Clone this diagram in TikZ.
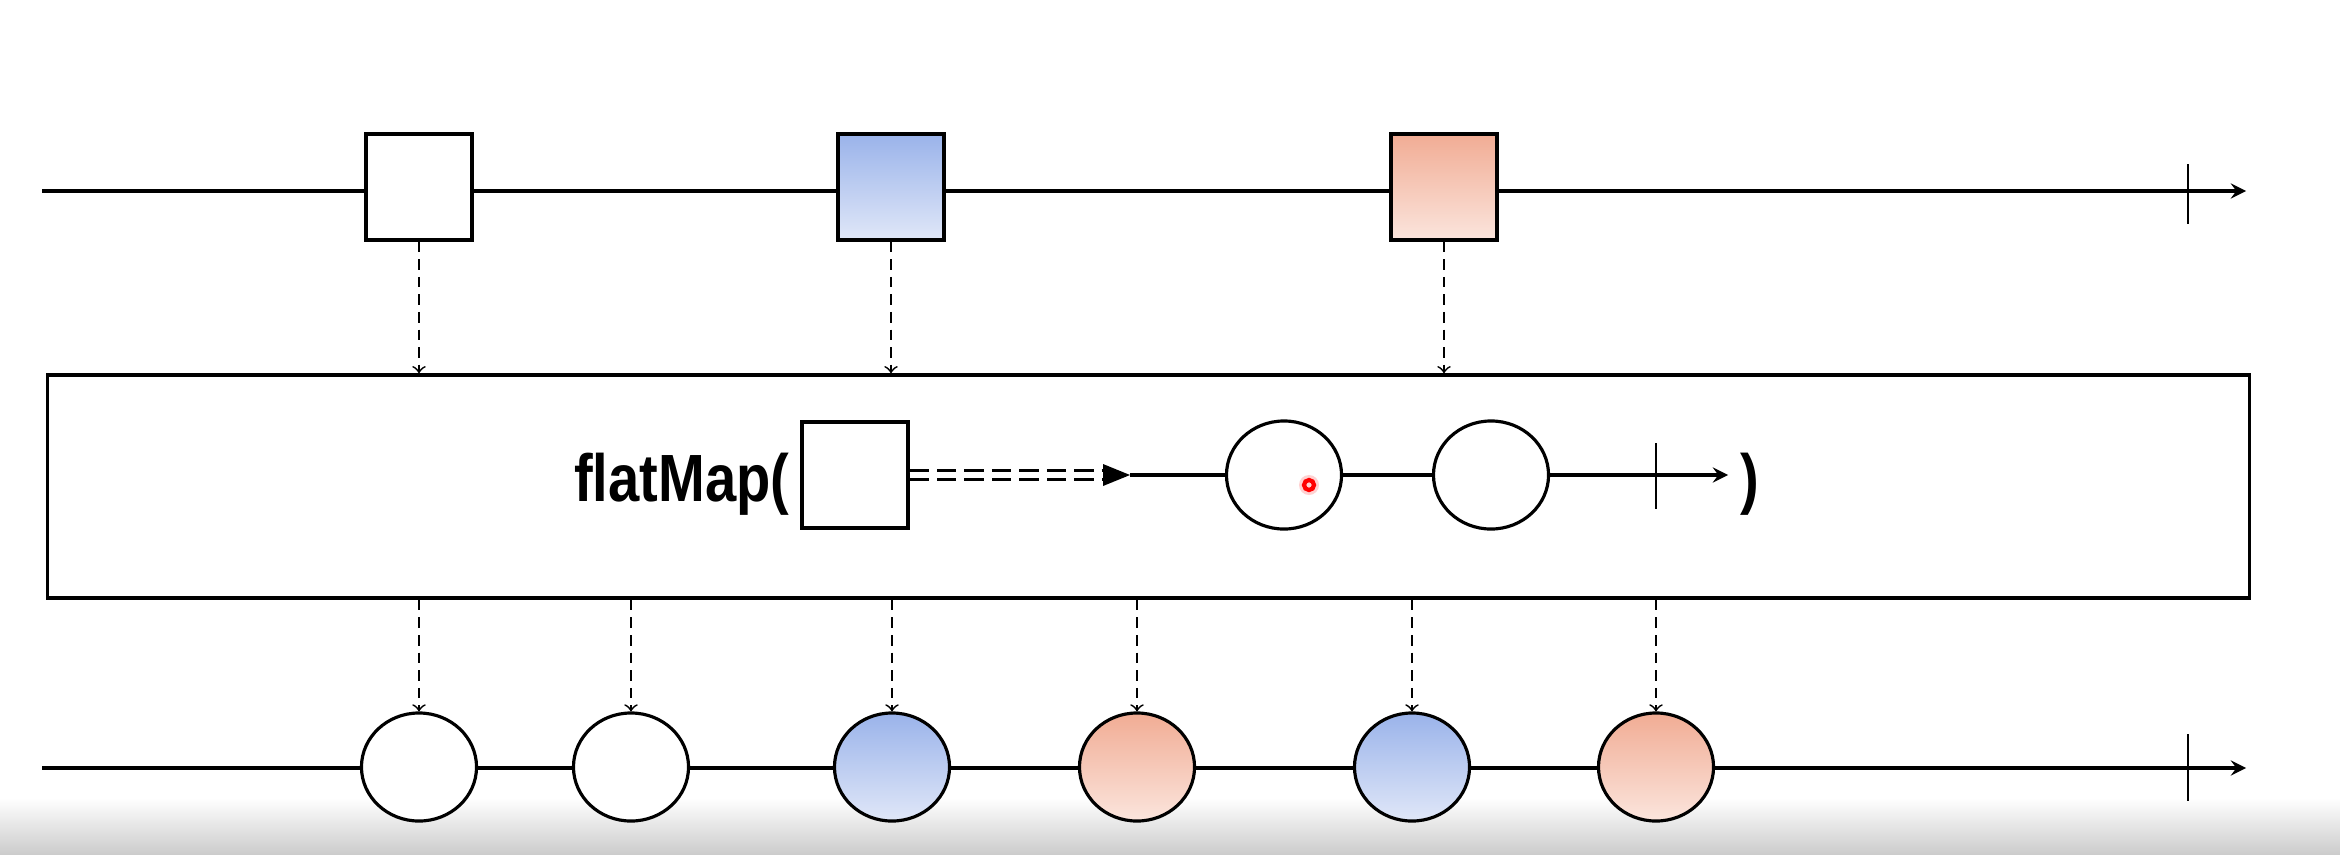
\documentclass[tikz,border=0pt]{standalone}
\usepackage{fontspec}
\newfontfamily\mapfont[FakeStretch=0.84]{Liberation Sans}
\usetikzlibrary{calc,positioning,arrows,shapes.geometric}

\definecolor{bluetop}{HTML}{9AB3EA}
\definecolor{bluebot}{HTML}{E0E7F8}
\definecolor{redtop}{HTML}{F1AC94}
\definecolor{redbot}{HTML}{FBE5DD}

\begin{document}
\begin{tikzpicture}[
x=0.01cm,
y=-0.01cm,
>=stealth,
item/.style={
	draw,
	line width=0.9pt,
	minimum width=1.06cm,
	minimum height=1.06cm,
	inner sep=0pt
},
marble/.style={
	draw,
	ellipse,
	line width=0.9pt,
	minimum width=1.15cm,
	minimum height=1.08cm,
	inner sep=0pt
},
plainfill/.style={fill=white},
bluefill/.style={top color=bluetop,bottom color=bluebot},
redfill/.style={top color=redtop,bottom color=redbot},
timeline/.style={
	->,
	line width=0.9pt
},
emit/.style={
	-to,
	line width=0.5pt,
	dash pattern=on 3pt off 2pt
},
mapline/.style={
	double,
	double distance=1.6pt,
	line width=0.8pt,
	dash pattern=on 5.5pt off 2.3pt
},
opname/.style={
	font=\mapfont\bfseries\fontsize{19}{22}\selectfont,
	inner sep=0pt
}
]
\useasboundingbox (0,0) rectangle (2340,854);
\fill[white] (0,0) rectangle (2340,854);
\shade[top color=white,bottom color=black!20] (0,798) rectangle (2340,854);

% source stream
\coordinate (in0) at (42,191);
\coordinate (in1) at (2246,191);
\draw[timeline] (in0) -- (in1);
\draw[line width=0.7pt] (2188,164) -- (2188,224);

\foreach \x/\c/\i in {419/plainfill/1,891/bluefill/2,1444/redfill/3}
\node[item,\c] (s\i) at (\x,187) {};

% operator
\node[draw,line width=1pt,minimum width=22.01cm,minimum height=2.23cm,inner sep=0pt] (op) at (1148.5,486.5) {};

\foreach \i in {1,2,3}
\draw[emit] (s\i.south) -- (s\i.south |- op.north);

\node[opname,anchor=base east] (fm) at (790,501) {flatMap(};
\node[item,plainfill] (sq) at (855,475) {};
\coordinate (hd) at (1130,475);
\coordinate (ie) at (1728,475);
\draw[mapline] (sq.east) -- ($(hd)+(-24,0)$);
\fill (hd) -- ++(-27,-11) -- ++(0,22) -- cycle;
\draw[timeline] (hd) -- (ie);
\draw[line width=0.7pt] (1656,443) -- (1656,509);
\node[marble,plainfill] (m1) at (1284,475) {};
\node[marble,plainfill] (m2) at (1491,475) {};
\node[opname,anchor=base west] (cl) at (1740,501) {)};

\fill[red!18] (1309,485) circle (10);
\node[circle,draw=red,line width=1.2pt,minimum size=0.1cm,inner sep=0pt] (cur) at (1309,485) {};

% result stream
\coordinate (out0) at (42,768);
\coordinate (out1) at (2246,768);
\draw[timeline] (out0) -- (out1);
\draw[line width=0.7pt] (2188,734) -- (2188,801);

\foreach \x/\c/\i in {419/plainfill/1,631/plainfill/2,892/bluefill/3,1137/redfill/4,1412/bluefill/5,1656/redfill/6}
\node[marble,\c] (o\i) at (\x,767) {};

\foreach \i in {1,...,6}
\draw[emit] (op.south -| o\i.north) -- (o\i.north);
\end{tikzpicture}
\end{document}
